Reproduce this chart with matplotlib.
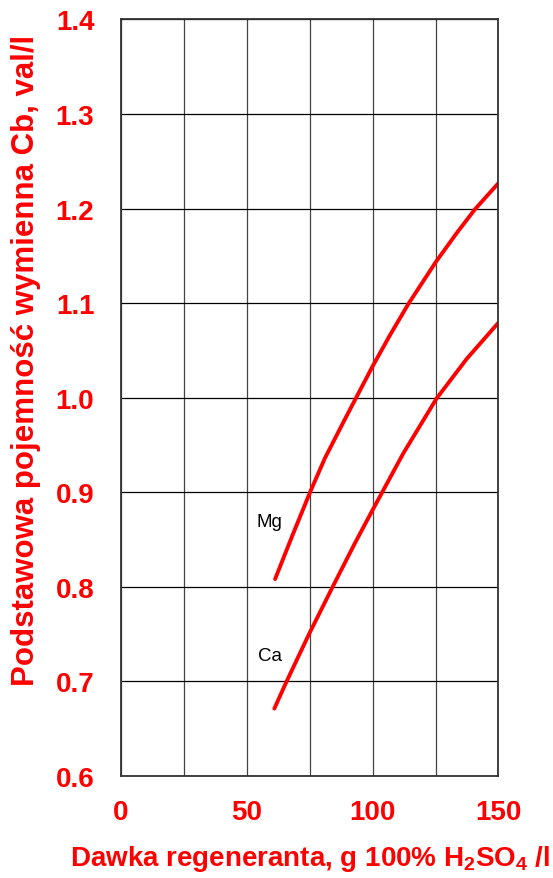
import numpy as np
import matplotlib.pyplot as plt
from matplotlib.ticker import MultipleLocator, FormatStrFormatter

plt.rcParams['font.family'] = ['Liberation Sans', 'DejaVu Sans']
plt.rcParams['mathtext.fontset'] = 'custom'
plt.rcParams['mathtext.rm'] = 'Liberation Sans:bold'
plt.rcParams['mathtext.bf'] = 'Liberation Sans:bold'

mg_x = [61.3, 68.0, 75.2, 81.1, 89.0, 93.7, 100.0, 106.9, 114.2, 125.0, 133.4, 140.6, 149.9]
mg_y = [0.808, 0.853, 0.900, 0.936, 0.977, 1.001, 1.033, 1.066, 1.099, 1.143, 1.174, 1.199, 1.2266]
ca_x = [61.0, 65.4, 70.0, 75.0, 84.2, 93.0, 100.0, 112.2, 125.4, 137.4, 149.9]
ca_y = [0.671, 0.697, 0.723, 0.751, 0.800, 0.846, 0.881, 0.941, 0.999, 1.041, 1.079]

czerwony = '#ff0000'

fig = plt.figure(figsize=(5.53, 8.79), dpi=100)
ax = fig.add_axes([0.2183, 0.1164, 0.6831, 0.8603])

ax.plot(mg_x, mg_y, color=czerwony, lw=2.8, solid_capstyle='round', solid_joinstyle='round')
ax.plot(ca_x, ca_y, color=czerwony, lw=2.8, solid_capstyle='round', solid_joinstyle='round')

ax.text(59.1, 0.869, 'Mg', fontsize=13.5, ha='center', va='center', color='black')
ax.text(59.3, 0.727, 'Ca', fontsize=13.5, ha='center', va='center', color='black')

ax.set_xlim(0, 150)
ax.set_ylim(0.6, 1.4)
ax.xaxis.set_major_locator(MultipleLocator(50))
ax.xaxis.set_minor_locator(MultipleLocator(25))
ax.yaxis.set_major_locator(MultipleLocator(0.1))
ax.yaxis.set_major_formatter(FormatStrFormatter('%.1f'))

ax.grid(True, which='major', axis='y', color='black', lw=0.9)
ax.grid(True, which='both', axis='x', color='#444444', lw=0.9)
ax.set_axisbelow(True)

ax.tick_params(which='both', length=0)
ax.tick_params(axis='y', pad=19)
ax.tick_params(axis='x', pad=17)
for lab in ax.get_xticklabels() + ax.get_yticklabels():
    lab.set_color(czerwony)
    lab.set_fontweight('bold')
    lab.set_fontsize(20)

for s in ax.spines.values():
    s.set_color('#333333')
    s.set_linewidth(1.3)

ax.set_xlabel(r'Dawka regeneranta, g 100% H$\mathrm{_2}$SO$\mathrm{_4}$ /l',
              color=czerwony, fontweight='bold', fontsize=20, labelpad=13)
ax.set_ylabel('Podstawowa pojemność wymienna Cb, val/l',
              color=czerwony, fontweight='bold', fontsize=22.5)
ax.yaxis.set_label_coords(-0.212, 0.551)

fig.savefig('out.png', dpi=100)
